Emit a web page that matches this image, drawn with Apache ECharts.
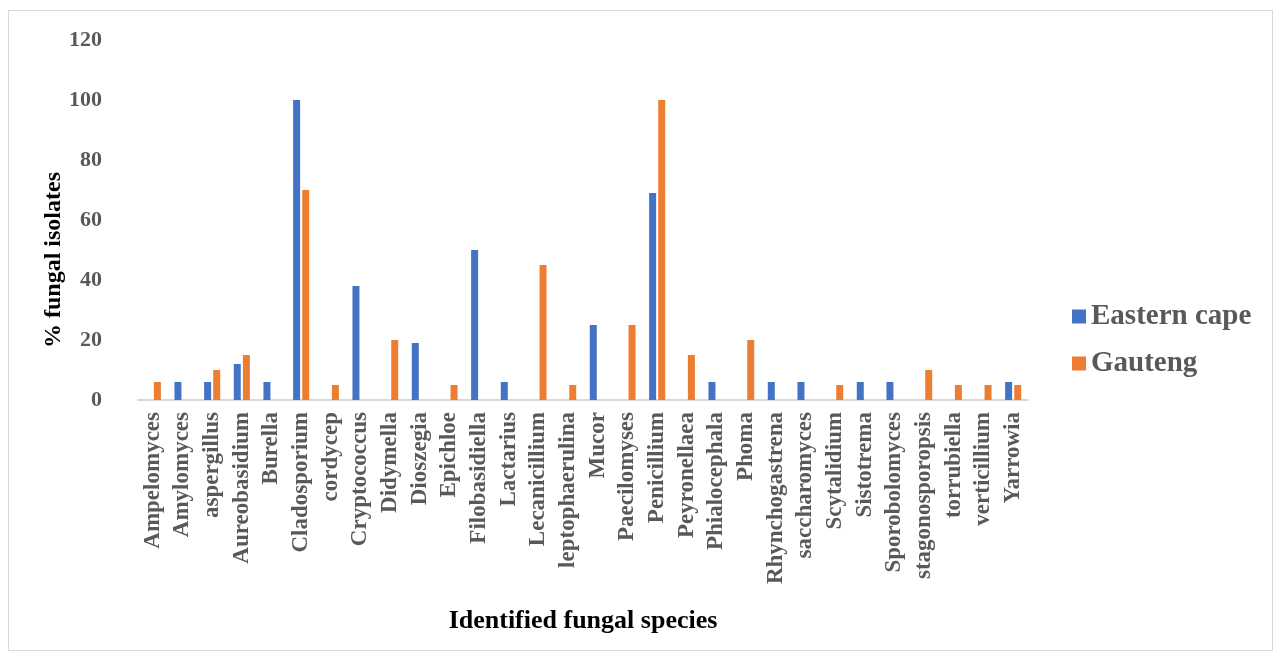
<!DOCTYPE html>
<html>
<head>
<meta charset="utf-8">
<script src="https://cdn.jsdelivr.net/npm/echarts@6/dist/echarts.min.js"></script>
<style>
  html, body { margin: 0; padding: 0; background: #fff; }
  #frame { position: absolute; left: 8px; top: 10px; width: 1263px; height: 639px; border: 1px solid #d9d9d9; }
  #main { position: absolute; left: 0; top: 0; width: 1280px; height: 659px; }
</style>
</head>
<body>
<div id="frame"></div>
<div id="main"></div>
<script>
var species = ['Ampelomyces', 'Amylomyces', 'aspergillus', 'Aureobasidium', 'Burella', 'Cladosporium',
    'cordycep', 'Cryptococcus', 'Didymella', 'Dioszegia', 'Epichloe', 'Filobasidiella', 'Lactarius',
    'Lecanicillium', 'leptophaerulina', 'Mucor', 'Paecilomyses', 'Penicillium', 'Peyronellaea',
    'Phialocephala', 'Phoma', 'Rhynchogastrena', 'saccharomyces', 'Scytalidium', 'Sistotrema',
    'Sporobolomyces', 'stagonosporopsis', 'torrubiella', 'verticillium', 'Yarrowia'];

var easternCape = [0, 6, 6, 12, 6, 100, 0, 38, 0, 19, 0, 50, 6, 0, 0, 25, 0, 69, 0, 6, 0, 6, 6, 0, 6, 6, 0, 0, 0, 6];
var gauteng     = [6, 0, 10, 15, 0, 70, 5, 0, 20, 0, 5, 0, 0, 45, 5, 0, 25, 100, 15, 0, 20, 0, 0, 5, 0, 0, 10, 5, 5, 5];

var myChart = echarts.init(document.getElementById('main'));

var font = '"Liberation Serif", "Times New Roman", serif';

var option = {
    backgroundColor: 'transparent',
    textStyle: { fontFamily: font },
    color: ['#4472C4', '#ED7D31'],
    legend: {
        orient: 'vertical',
        left: 1067,
        top: 297,
        itemWidth: 14,
        itemHeight: 14,
        itemGap: 18,
        icon: 'rect',
        textStyle: { fontFamily: font, fontSize: 29, fontWeight: 'bold', color: '#595959' },
        data: ['Eastern cape', 'Gauteng']
    },
    grid: { left: 138, right: 252, top: 40, bottom: 259 },
    xAxis: {
        type: 'category',
        data: species,
        name: 'Identified fungal species',
        nameLocation: 'middle',
        nameGap: 208,
        nameTextStyle: { fontFamily: font, fontSize: 26, fontWeight: 'bold', color: '#000' },
        axisLine: { lineStyle: { color: '#d9d9d9', width: 2 } },
        axisTick: { show: false },
        axisLabel: {
            rotate: 90,
            interval: 0,
            margin: 12,
            fontFamily: font,
            fontSize: 23,
            fontWeight: 'bold',
            color: '#595959'
        }
    },
    yAxis: {
        type: 'value',
        min: 0,
        max: 120,
        interval: 20,
        name: '% fungal isolates',
        nameLocation: 'middle',
        nameGap: 72,
        nameMoveOverlap: false,
        nameRotate: 90,
        nameTextStyle: { fontFamily: font, fontSize: 24, fontWeight: 'bold', color: '#000', padding: [0, 80, 0, 0] },
        axisLine: { show: false },
        axisTick: { show: false },
        splitLine: { show: false },
        axisLabel: { margin: 36, fontFamily: font, fontSize: 22, fontWeight: 'bold', color: '#595959' }
    },
    series: [{
        name: 'Eastern cape',
        type: 'bar',
        barWidth: 7,
        barGap: '30%',
        data: easternCape
    }, {
        name: 'Gauteng',
        type: 'bar',
        barWidth: 7,
        barGap: '30%',
        data: gauteng
    }]
};

myChart.setOption(option);
</script>
</body>
</html>
